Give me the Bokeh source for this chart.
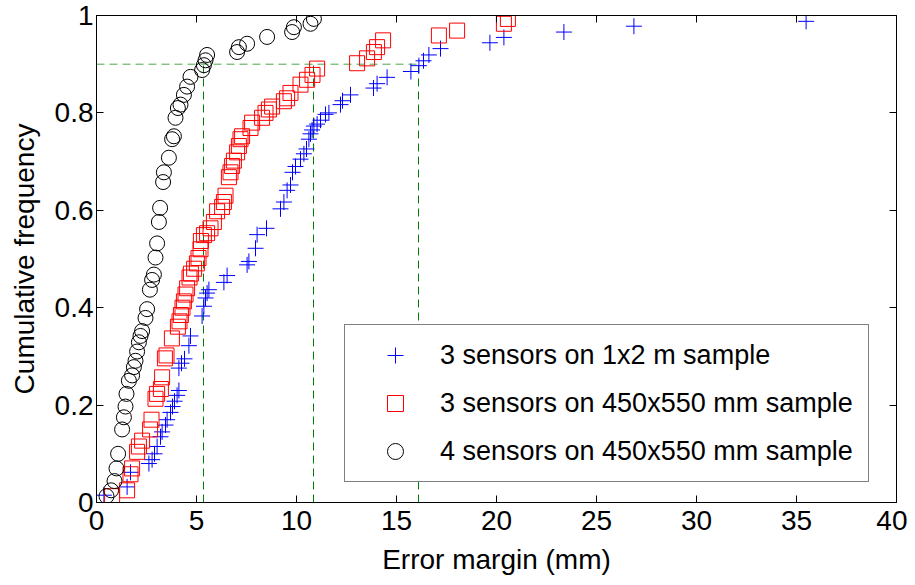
from bokeh.plotting import figure
from bokeh.models import LinearAxis, FixedTicker, Legend, LegendItem, Range1d
from bokeh.embed import file_html
from bokeh.resources import INLINE

# ---- data ----
x_plus = [0.37, 1.53, 1.70, 2.62, 2.78, 2.90, 3.03, 3.20, 3.28, 3.45, 3.53,
          3.70, 3.80, 3.90, 4.03, 4.12, 4.12, 4.25, 4.40, 4.62, 4.70,
          5.28, 5.37, 5.45, 5.53, 5.62, 6.37, 6.53, 7.53, 7.62, 7.95,
          8.03, 8.50, 9.20, 9.37, 9.53, 9.70, 9.80, 9.95, 10.20, 10.37,
          10.50, 10.62, 10.70, 10.78, 10.87, 11.03, 11.20, 11.45, 11.62, 12.20,
          12.30, 12.70, 13.85, 14.03, 14.53, 15.72, 16.12, 16.35, 16.62, 17.20,
          19.67, 20.37, 23.37, 26.87, 35.48]
y_plus = [0.015, 0.032, 0.062, 0.080, 0.088, 0.100, 0.115, 0.135, 0.145, 0.159, 0.170,
          0.185, 0.197, 0.208, 0.220, 0.230, 0.276, 0.286, 0.295, 0.322, 0.342,
          0.383, 0.403, 0.420, 0.430, 0.437, 0.452, 0.466, 0.488, 0.495, 0.522,
          0.550, 0.563, 0.603, 0.617, 0.641, 0.652, 0.678, 0.690, 0.705, 0.716,
          0.726, 0.746, 0.757, 0.765, 0.773, 0.777, 0.785, 0.797, 0.800, 0.817,
          0.825, 0.837, 0.851, 0.860, 0.873, 0.885, 0.897, 0.907, 0.919, 0.932,
          0.944, 0.955, 0.966, 0.978, 0.988]

x_square = [0.78, 1.53, 1.70, 1.78, 2.03, 2.12, 2.28, 2.68, 2.75, 2.95,
            3.03, 3.22, 3.28, 3.42, 3.50, 3.77, 4.07, 4.15, 4.22, 4.30,
            4.37, 4.45, 4.53, 4.65, 4.72, 4.88, 5.02, 5.10, 5.20, 5.22,
            5.37, 5.53, 5.70, 5.87, 6.03, 6.28, 6.37, 6.45, 6.62, 6.70,
            6.78, 6.87, 7.03, 7.12, 7.20, 7.28, 7.70, 7.78, 8.28, 8.45,
            8.62, 8.78, 9.37, 9.53, 9.70, 10.20, 10.53, 10.80, 11.03, 13.03,
            13.53, 13.87, 14.03, 14.33, 17.12, 18.03, 20.37, 20.57]
y_square = [0.013, 0.025, 0.058, 0.070, 0.104, 0.115, 0.127, 0.150, 0.170, 0.213,
            0.223, 0.233, 0.257, 0.296, 0.302, 0.337, 0.361, 0.372, 0.385, 0.400,
            0.413, 0.427, 0.440, 0.462, 0.470, 0.480, 0.491, 0.502, 0.520, 0.537,
            0.549, 0.553, 0.563, 0.576, 0.598, 0.607, 0.617, 0.630, 0.668, 0.678,
            0.691, 0.702, 0.719, 0.732, 0.746, 0.752, 0.769, 0.780, 0.790, 0.800,
            0.807, 0.813, 0.824, 0.830, 0.841, 0.858, 0.868, 0.878, 0.891, 0.902,
            0.912, 0.925, 0.935, 0.949, 0.959, 0.969, 0.983, 0.993]

x_circle = [0.50, 0.73, 0.90, 1.00, 1.08, 1.28, 1.37, 1.45, 1.50, 1.62,
            1.78, 1.87, 1.95, 2.03, 2.12, 2.20, 2.28, 2.45, 2.53, 2.67,
            2.78, 2.87, 2.95, 3.03, 3.12, 3.18, 3.33, 3.37, 3.62, 3.78,
            3.87, 3.95, 4.07, 4.20, 4.37, 4.53, 4.70, 5.28, 5.37, 5.45,
            5.53, 7.03, 7.12, 7.53, 8.53, 9.78, 9.87, 10.70, 10.87]
y_circle = [0.013, 0.025, 0.044, 0.070, 0.100, 0.150, 0.175, 0.197, 0.223, 0.250,
            0.261, 0.278, 0.291, 0.310, 0.329, 0.342, 0.352, 0.379, 0.397, 0.437,
            0.457, 0.468, 0.503, 0.532, 0.576, 0.605, 0.658, 0.678, 0.708, 0.746,
            0.752, 0.790, 0.810, 0.817, 0.837, 0.854, 0.874, 0.888, 0.898, 0.908,
            0.919, 0.925, 0.935, 0.942, 0.956, 0.966, 0.976, 0.983, 0.993]

labels = ["3 sensors on 1x2 m sample",
          "3 sensors on 450x550 mm sample",
          "4 sensors on 450x550 mm sample"]

threshold_level = 0.9
threshold_x = [5.35, 10.85, 16.1]

x_ticks = [0, 5, 10, 15, 20, 25, 30, 35, 40]
y_ticks = [0, 0.2, 0.4, 0.6, 0.8, 1]
y_tick_labels = ["0", "0.2", "0.4", "0.6", "0.8", "1"]

FONT = "Liberation Sans"
FS = "28px"

p = figure(width=907, height=577, x_range=Range1d(0, 40), y_range=Range1d(0, 1),
           output_backend="svg", toolbar_location=None,
           min_border_left=96, min_border_right=11, min_border_top=15, min_border_bottom=71)
p.xgrid.grid_line_color = None
p.ygrid.grid_line_color = None
p.outline_line_color = "black"
p.outline_line_width = 1
p.background_fill_color = "white"

def style_axis(ax, ticks, show_labels=True):
    ax.ticker = FixedTicker(ticks=ticks)
    ax.minor_tick_line_color = None
    ax.major_tick_in = 7
    ax.major_tick_out = 0
    ax.axis_line_color = "black"
    ax.major_tick_line_color = "black"
    ax.major_label_text_font = FONT
    if show_labels:
        ax.major_label_text_font_size = FS
        ax.major_label_text_color = "black"
    else:
        ax.major_label_text_font_size = "1px"
        ax.major_label_text_color = None
        ax.major_label_standoff = 0

xa = p.xaxis[0]
style_axis(xa, x_ticks)
xa.major_label_standoff = 8
xa.axis_label = "Error margin (mm)"
xa.axis_label_text_font = FONT
xa.axis_label_text_font_size = FS
xa.axis_label_text_font_style = "normal"
xa.axis_label_text_color = "black"
xa.axis_label_standoff = 11

ya = p.yaxis[0]
style_axis(ya, y_ticks)
ya.major_label_overrides = {t: s for t, s in zip(y_ticks, y_tick_labels)}
ya.major_label_standoff = 3
ya.axis_label = "Cumulative frequency"
ya.axis_label_text_font = FONT
ya.axis_label_text_font_size = FS
ya.axis_label_text_font_style = "normal"
ya.axis_label_text_color = "black"
ya.axis_label_standoff = 12

top_ax = LinearAxis()
style_axis(top_ax, x_ticks, show_labels=False)
p.add_layout(top_ax, "above")
right_ax = LinearAxis()
style_axis(right_ax, y_ticks, show_labels=False)
p.add_layout(right_ax, "right")

# reference (90 %) lines
p.segment(x0=threshold_x, y0=[0] * len(threshold_x), x1=threshold_x,
          y1=[threshold_level] * len(threshold_x),
          line_color="#008000", line_width=1, line_dash="8 5")
p.segment(x0=[0], y0=[threshold_level], x1=[max(threshold_x)], y1=[threshold_level],
          line_color="#008000", line_width=1, line_dash="8 5", line_alpha=0.7)

r_plus = p.scatter(x_plus, y_plus, marker="cross", size=16, line_color="#0000ff", line_width=1)
r_sq = p.scatter(x_square, y_square, marker="square", size=15, line_color="#ff0000",
                 fill_color=None, line_width=1)
r_ci = p.scatter(x_circle, y_circle, marker="circle", size=15, line_color="black",
                 fill_color=None, line_width=1)

legend = Legend(items=[LegendItem(label=labels[0], renderers=[r_plus]),
                       LegendItem(label=labels[1], renderers=[r_sq]),
                       LegendItem(label=labels[2], renderers=[r_ci])],
                location=(248, 20))
legend.border_line_color = "black"
legend.border_line_width = 1
legend.background_fill_color = "white"
legend.background_fill_alpha = 1
legend.padding = 10
legend.spacing = 8
legend.margin = 0
legend.glyph_width = 80
legend.glyph_height = 40
legend.label_height = 40
legend.label_standoff = 5
legend.label_width = 418
legend.label_text_font = FONT
legend.label_text_font_size = "27px"
legend.label_text_color = "black"
p.add_layout(legend)

open("out.html", "w").write(file_html(p, INLINE))
